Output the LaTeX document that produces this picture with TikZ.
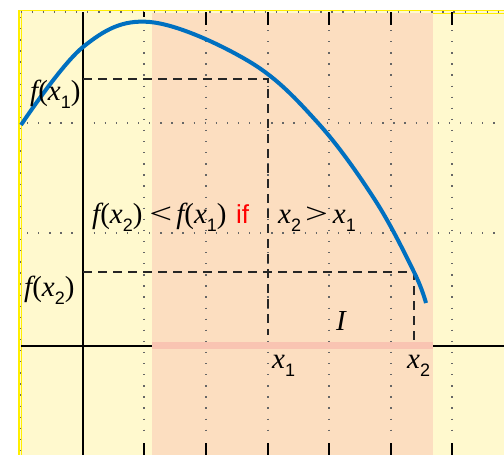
\documentclass[tikz,border=0pt]{standalone}
\usepackage{graphicx}
\usepackage{fontspec}
\setmainfont{Liberation Serif}
\newfontfamily\sansf{Liberation Sans}
\newfontfamily\serifit{Liberation Serif Italic}

\definecolor{paleyellow}{RGB}{255,249,206}
\definecolor{paleorange}{RGB}{252,222,192}
\definecolor{barpink}{RGB}{249,196,178}
\definecolor{curveblue}{RGB}{0,112,192}
\definecolor{frameyellow}{RGB}{255,238,0}
\newcommand{\var}[1]{{\serifit #1}}
\newcommand{\idx}[1]{\raisebox{-0.28em}{\fontsize{18}{18}\selectfont\sansf #1}}
\newcommand{\rel}[1]{\scalebox{1.4}[1]{#1}}

\begin{document}
\begin{tikzpicture}[x=1pt, y=-1pt,
  grid/.style={black!60, line width=1.2pt, dash pattern=on 1.3pt off 9.8pt},
  tick/.style={black, line width=1.3pt},
  guide/.style={black!85, line width=2pt, dash pattern=on 9pt off 6pt},
  lbl/.style={font=\fontsize{29}{32}\selectfont, inner sep=0pt, anchor=base west}
]
  \useasboundingbox (0,0) rectangle (504,455);

  % Background and interval band
  \fill[paleyellow] (19,10) rectangle (504,455);
  \fill[paleorange] (152,13) rectangle (433,455);
  \draw[frameyellow, line width=1.5pt] (19,455) -- (19,10.5) -- (504,10.5);
  \draw[frameyellow, line width=1pt] (21.5,455) -- (21.5,12);
  \draw[frameyellow, line width=1.5pt] (433,13.5) -- (504,13.5);

  % Grid
  \draw[grid] (20.5,12) -- (504,12);
  \draw[grid] (20.5,17) -- (20.5,455);
  \foreach \x in {144,206,268,329,391,452}
    \draw[grid] (\x,30) -- (\x,440);
  \foreach \y in {123,233}
    \draw[grid] (27,\y) -- (504,\y);
  \foreach \x in {206,268,329,391,452}
    \draw[tick] (\x,12) -- (\x,25);
  \draw[tick] (144,12) -- (144,17);
  \foreach \x in {144,206,268,329,391,452}
    \draw[tick] (\x,443) -- (\x,455);

  % Axes
  \draw[line width=2pt] (83,12) -- (83,455);
  \draw[line width=2pt] (21,345.5) -- (504,345.5);
  \fill[barpink] (152,342) rectangle (433,349);

  % Guide lines to the curve
  \coordinate (p1) at (268,79);
  \coordinate (p2) at (414,272);
  \coordinate (y1) at (83,79);
  \coordinate (y2) at (83,272);
  \coordinate (x1) at (268,335);
  \coordinate (x2) at (414,343);
  \draw[guide] (y1) -- (p1) -- (x1);
  \draw[guide] (y2) -- (p2) -- (x2);

  % Decreasing function
  \draw[curveblue, line width=4pt] plot[smooth, tension=0.6] coordinates
    {(21,125) (83,47) (150,22) (250,62) (318,123) (375,200) (414,272) (426,303)};

  % Labels
  \node[lbl] (fx1) at (30,100) {\var{f}(\var{x}\idx{1})};
  \node[lbl] (fx2) at (24,296) {\var{f}(\var{x}\idx{2})};
  \node[lbl] (ineq) at (92,223)
    {\var{f}(\var{x}\idx{2})\hspace{7pt}\rel{<}\hspace{4pt}\var{f}(\var{x}\idx{1})};
  \node[lbl, font=\fontsize{26}{28}\selectfont\sansf, red] (ifw) at (236,223) {if};
  \node[lbl] (cond) at (278,223)
    {\var{x}\idx{2}\hspace{4pt}\rel{>}\hspace{5pt}\var{x}\idx{1}};
  \node[lbl] (intv) at (336,330) {\var{I}};
  \node[lbl] (lx1) at (272,368) {\var{x}\idx{1}};
  \node[lbl] (lx2) at (407,368) {\var{x}\idx{2}};
\end{tikzpicture}
\end{document}
